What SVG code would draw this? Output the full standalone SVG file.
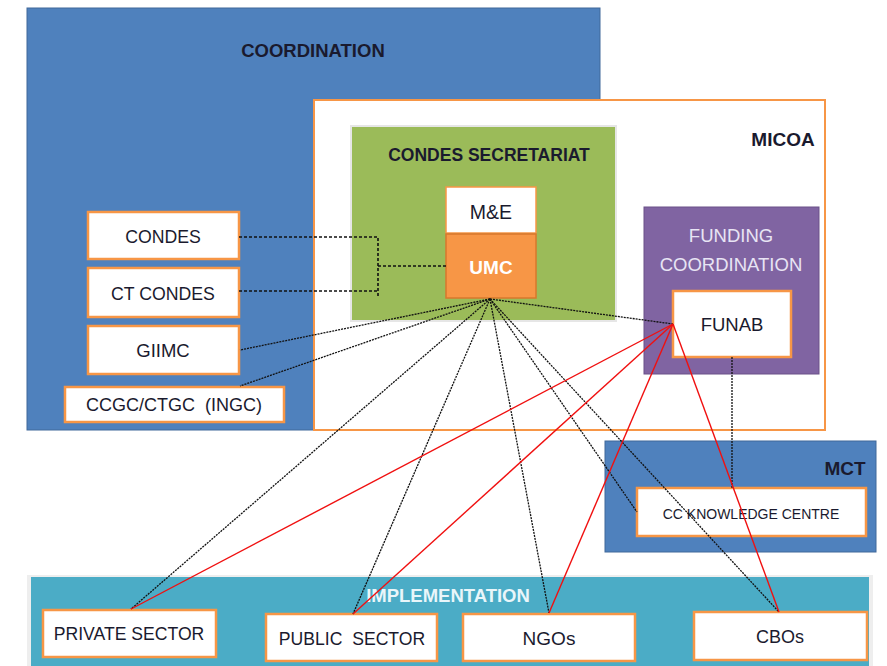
<svg xmlns="http://www.w3.org/2000/svg" width="887" height="666" viewBox="0 0 887 666">
<style>
.t{font-family:"Liberation Sans",Arial,sans-serif;text-anchor:middle;fill:#1a1a2e}
.b{font-weight:bold}
.wbox{fill:#fff;stroke:#F79646;stroke-width:2.5}
.blk{fill:none;stroke:#111;stroke-width:1.3;stroke-dasharray:2 1}
.dsh{fill:none;stroke:#111;stroke-width:1.6;stroke-dasharray:3 2}
.red{fill:none;stroke:#f01010;stroke-width:1.4}
</style>
<rect width="887" height="666" fill="#fff"/>
<g id="coordination">
<rect x="27" y="8" width="573" height="422" fill="#4F81BD" stroke="#41699a" stroke-width="1"/>
<text class="t b" x="313" y="57" font-size="18.5">COORDINATION</text>
</g>
<g id="micoa">
<rect x="314" y="100" width="511" height="330" fill="#fff" stroke="#F79646" stroke-width="2"/>
<text class="t b" x="783" y="146" font-size="19">MICOA</text>
</g>
<g id="condes-secretariat">
<rect x="350" y="125" width="267" height="197" fill="#e6e6e6"/>
<rect x="352" y="127" width="263" height="193" fill="#9BBB59"/>
<text class="t b" x="489" y="161" font-size="17.5">CONDES SECRETARIAT</text>
</g>
<g id="me">
<rect x="446" y="187" width="90" height="46" fill="#fff" stroke="#F79646" stroke-width="1.5"/>
<text class="t" x="491" y="219" font-size="19.5">M&amp;E</text>
</g>
<g id="umc">
<rect x="446" y="234" width="90" height="64" fill="#F79646" stroke="#d9772c" stroke-width="1.5"/>
<text class="t b" x="491" y="274" font-size="19" style="fill:#fff">UMC</text>
</g>
<g id="funding-coordination">
<rect x="644" y="207" width="175" height="167" fill="#8064A2" stroke="#6a5088" stroke-width="1"/>
<text class="t" x="731" y="242" font-size="18.5" style="fill:#e8e4f4">FUNDING</text>
<text class="t" x="731" y="271" font-size="18.5" style="fill:#e8e4f4">COORDINATION</text>
</g>
<g id="funab">
<rect x="673" y="291" width="118" height="66" class="wbox"/>
<text class="t" x="732" y="331" font-size="18.5">FUNAB</text>
</g>
<g id="condes">
<rect x="88" y="212" width="151" height="47" class="wbox"/>
<text class="t" x="163" y="243" font-size="17.7">CONDES</text>
</g>
<g id="ct-condes">
<rect x="88" y="268" width="151" height="49" class="wbox"/>
<text class="t" x="163" y="300" font-size="17.7">CT CONDES</text>
</g>
<g id="giimc">
<rect x="88" y="326" width="151" height="48" class="wbox"/>
<text class="t" x="163" y="357" font-size="18.5">GIIMC</text>
</g>
<g id="ccgc">
<rect x="65" y="387" width="219" height="35" class="wbox"/>
<text class="t" x="174" y="411" font-size="18" xml:space="preserve">CCGC/CTGC  (INGC)</text>
</g>
<g id="mct">
<rect x="605" y="441" width="271" height="111" fill="#4F81BD" stroke="#41699a" stroke-width="1"/>
<text class="t b" x="845" y="475" font-size="19">MCT</text>
</g>
<g id="cc-knowledge-centre">
<rect x="637" y="488" width="229" height="48" class="wbox"/>
<text class="t" x="751" y="519" font-size="14">CC KNOWLEDGE CENTRE</text>
</g>
<g id="implementation">
<rect x="27" y="575" width="846" height="95" fill="#eeeeee"/>
<rect x="31" y="577" width="838" height="93" fill="#4BACC6"/>
<text class="t b" x="448" y="602" font-size="18.5" style="fill:#e9f6fa">IMPLEMENTATION</text>
</g>
<g id="private-sector">
<rect x="43" y="610" width="173" height="47" class="wbox"/>
<text class="t" x="129" y="640" font-size="17.6">PRIVATE SECTOR</text>
</g>
<g id="public-sector">
<rect x="266" y="614" width="171" height="47" class="wbox"/>
<text class="t" x="352" y="645" font-size="17.6" xml:space="preserve">PUBLIC  SECTOR</text>
</g>
<g id="ngos">
<rect x="463" y="614" width="172" height="47" class="wbox"/>
<text class="t" x="549" y="645" font-size="19">NGOs</text>
</g>
<g id="cbos">
<rect x="694" y="612" width="173" height="48" class="wbox"/>
<text class="t" x="780" y="643" font-size="18">CBOs</text>
</g>
<g id="connectors">
<polyline class="dsh" points="239,237 378,237 378,297"/>
<polyline class="dsh" points="239,291 378,291"/>
<polyline class="dsh" points="378,266 446,266"/>
<line class="blk" x1="732" y1="357" x2="732" y2="488"/>
<line class="blk" x1="490" y1="299" x2="673" y2="324"/>
<line class="blk" x1="490" y1="299" x2="240" y2="350"/>
<line class="blk" x1="490" y1="299" x2="240" y2="386"/>
<line class="blk" x1="490" y1="299" x2="131" y2="609"/>
<line class="blk" x1="490" y1="299" x2="353" y2="614"/>
<line class="blk" x1="490" y1="299" x2="549" y2="613"/>
<line class="blk" x1="490" y1="299" x2="637" y2="512"/>
<line class="blk" x1="490" y1="299" x2="779" y2="612"/>
<line class="red" x1="673" y1="324" x2="131" y2="609"/>
<line class="red" x1="673" y1="324" x2="353" y2="614"/>
<line class="red" x1="673" y1="324" x2="549" y2="613"/>
<line class="red" x1="673" y1="324" x2="779" y2="612"/>
</g>
</svg>
